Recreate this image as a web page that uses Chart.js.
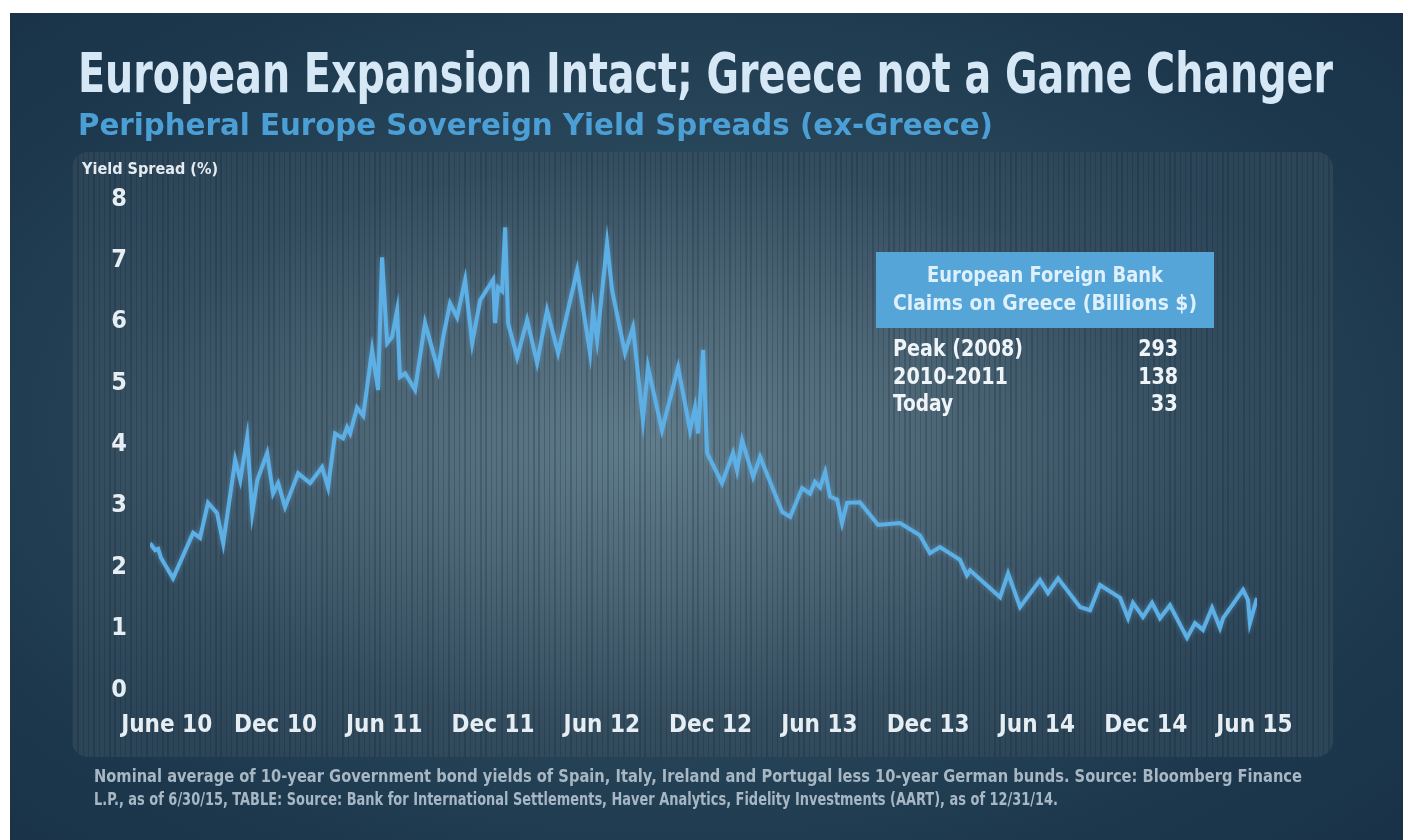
<!DOCTYPE html>
<html><head><meta charset="utf-8">
<script src="https://cdn.jsdelivr.net/npm/chart.js@4.4.1/dist/chart.umd.min.js"></script>
<style>
html,body{margin:0;padding:0;background:#fff;width:1403px;height:840px;overflow:hidden}
#bg{position:absolute;left:10px;top:13px;width:1393px;height:827px;
 background:radial-gradient(ellipse 70% 70% at 48% 50%, #3b5a6d 0%, #29475b 45%, #1d384d 80%, #193247 100%)}
#panel{position:absolute;left:72px;top:152px;width:1261px;height:605px;border-radius:16px;
 background:
  repeating-linear-gradient(90deg, rgba(12,28,40,0.22) 0px, rgba(12,28,40,0.22) 1.4px, rgba(0,0,0,0) 1.4px, rgba(0,0,0,0) 5.3px),
  radial-gradient(ellipse 58% 62% at 46% 48%, #617c8b 0%, #4d6777 38%, #344e60 75%, #2c4558 100%)}
#c{position:absolute;left:0;top:0}
.t{position:absolute;white-space:nowrap;font-weight:bold;line-height:1;
 font-family:"Liberation Sans Narrow","DejaVu Sans Condensed","Roboto Condensed","Liberation Sans",Roboto,sans-serif}
#hdr{position:absolute;left:876px;top:252px;width:338px;height:76px;background:#55a5d9}
</style></head>
<body>
<div id="bg"></div>
<div id="panel"></div>
<div id="hdr"></div>
<canvas id="c" width="1403" height="840"></canvas>
<div class="t" style="left:78px;top:45px;font-size:56px;color:#d6e7f5" data-w="1255">European Expansion Intact; Greece not a Game Changer</div>
<div class="t" style="left:78px;top:109px;font-size:31px;color:#4c9fd5" data-w="915">Peripheral Europe Sovereign Yield Spreads (ex-Greece)</div>
<div class="t" style="left:82px;top:161px;font-size:16px;color:#e4ecf2" data-w="136">Yield Spread (%)</div>
<div class="t" style="left:927px;top:265px;font-size:21px;color:#def0fb" data-w="236">European Foreign Bank</div>
<div class="t" style="left:893px;top:293px;font-size:21px;color:#def0fb" data-w="304">Claims on Greece (Billions $)</div>
<div class="t" style="left:893px;top:337px;font-size:23px;color:#eef4f8" data-w="130">Peak (2008)</div>
<div class="t" style="left:893px;top:365px;font-size:23px;color:#eef4f8" data-w="115">2010-2011</div>
<div class="t" style="left:893px;top:392px;font-size:23px;color:#eef4f8" data-w="60">Today</div>
<div class="t" style="right:225px;top:337px;font-size:23px;color:#eef4f8" data-w="40" data-o="right">293</div>
<div class="t" style="right:225px;top:365px;font-size:23px;color:#eef4f8" data-w="40" data-o="right">138</div>
<div class="t" style="right:225px;top:392px;font-size:23px;color:#eef4f8" data-w="27" data-o="right">33</div>
<div class="t" style="left:94px;top:768px;font-size:17px;color:#a7b7c3" data-w="1208">Nominal average of 10-year Government bond yields of Spain, Italy, Ireland and Portugal less 10-year German bunds. Source: Bloomberg Finance</div>
<div class="t" style="left:94px;top:791px;font-size:17px;color:#a7b7c3" data-w="964">L.P., as of 6/30/15, TABLE: Source: Bank for International Settlements, Haver Analytics, Fidelity Investments (AART), as of 12/31/14.</div>
<script>
// months since June 2010
const months = [-0.92,-0.64,-0.47,-0.31,0.35,1.46,1.84,2.28,2.78,3.12,3.78,4.06,4.44,4.72,5.0,5.54,5.87,6.15,6.53,7.25,7.91,8.57,8.9,9.29,9.73,9.95,10.12,10.5,10.84,11.33,11.66,11.88,12.16,12.43,12.71,12.87,13.15,13.7,14.25,14.97,15.25,15.63,16.02,16.46,16.85,17.29,18.0,18.11,18.28,18.5,18.67,18.83,19.33,19.88,20.43,20.98,21.59,22.64,23.35,23.52,23.74,24.29,24.57,25.28,25.72,26.27,26.55,27.32,28.21,28.87,29.14,29.31,29.59,29.81,30.63,31.24,31.46,31.74,32.35,32.73,33.95,34.39,35.05,35.49,35.76,36.04,36.32,36.59,36.98,37.25,37.53,38.24,39.24,40.45,41.55,42.1,42.65,43.76,44.14,44.31,45.97,46.41,47.07,48.17,48.61,49.17,50.38,50.93,51.48,52.59,53.03,53.3,53.85,54.35,54.79,55.34,56.28,56.72,57.16,57.66,58.1,58.27,59.37,59.64,59.75,60.14];
const spread = [2.39,2.28,2.3,2.15,1.82,2.56,2.48,3.05,2.88,2.39,3.75,3.42,4.12,2.88,3.42,3.86,3.2,3.37,2.98,3.53,3.37,3.63,3.3,4.18,4.1,4.28,4.18,4.6,4.47,5.54,4.89,7.05,5.65,5.75,6.19,5.1,5.16,4.89,5.98,5.21,5.75,6.3,6.07,6.68,5.65,6.35,6.68,5.98,6.56,6.5,7.54,5.98,5.42,6.03,5.33,6.19,5.49,6.84,5.49,6.19,5.7,7.28,6.51,5.49,5.91,4.4,5.26,4.23,5.26,4.23,4.6,4.18,5.54,3.86,3.37,3.86,3.58,4.07,3.47,3.8,2.9,2.82,3.29,3.2,3.39,3.3,3.55,3.15,3.1,2.72,3.05,3.06,2.69,2.72,2.52,2.23,2.33,2.12,1.87,1.95,1.51,1.9,1.35,1.79,1.58,1.82,1.35,1.3,1.71,1.5,1.17,1.42,1.19,1.42,1.17,1.38,0.85,1.09,0.98,1.34,1.01,1.17,1.63,1.47,1.09,1.5];
const tickMonths = [0,6,12,18,24,30,36,42,48,54,60];
const tickLabels = ['June 10','Dec 10','Jun 11','Dec 11','Jun 12','Dec 12','Jun 13','Dec 13','Jun 14','Dec 14','Jun 15'];
const yTicks = [0,1,2,3,4,5,6,7,8];

const FAM = '"Liberation Sans Narrow","DejaVu Sans Condensed","Roboto Condensed","Liberation Sans",Roboto,sans-serif';

document.querySelectorAll('.t[data-w]').forEach(el=>{
  const w = el.getBoundingClientRect().width;
  const s = parseFloat(el.dataset.w)/w;
  el.style.transformOrigin = (el.dataset.o||'left') + ' top';
  el.style.transform = 'scaleX(' + s + ')';
});

const glow = {
  id:'glow',
  beforeDatasetDraw(chart){ const c=chart.ctx; c.save(); c.shadowColor='rgba(110,185,240,0.45)'; c.shadowBlur=5; },
  afterDatasetDraw(chart){ chart.ctx.restore(); }
};

new Chart(document.getElementById('c'), {
  type:'line',
  data:{ datasets:[{
    data: months.map((m,i)=>({x:m, y:spread[i]})),
    borderColor:'#5cb0e6', borderWidth:4, pointRadius:0, tension:0,
    borderJoinStyle:'miter', fill:false
  }]},
  options:{
    responsive:false, animation:false, devicePixelRatio:1,
    layout:{ padding:{ left:110, right:146, top:199, bottom:90 } },
    plugins:{ legend:{display:false}, tooltip:{enabled:false} },
    scales:{
      x:{ type:'linear', min:months[0], max:months[months.length-1],
        grid:{display:false}, border:{display:false},
        afterBuildTicks: s => { s.ticks = tickMonths.map(v=>({value:v})); },
        afterFit: s => { s.height = 60; },
        ticks:{ autoSkip:false, maxRotation:0, padding:13, color:'#e6eef4',
          font:{ family:FAM, size:24, weight:'bold' },
          callback:(v,i)=>tickLabels[i] }
      },
      y:{ min:0, max:8,
        grid:{display:false}, border:{display:false},
        afterBuildTicks: s => { s.ticks = yTicks.map(v=>({value:v})); },
        afterFit: s => { s.width = 40; },
        ticks:{ padding:15, color:'#e6eef4', font:{ family:FAM, size:25, weight:'bold' } }
      }
    }
  },
  plugins:[glow]
});
</script>
</body></html>
